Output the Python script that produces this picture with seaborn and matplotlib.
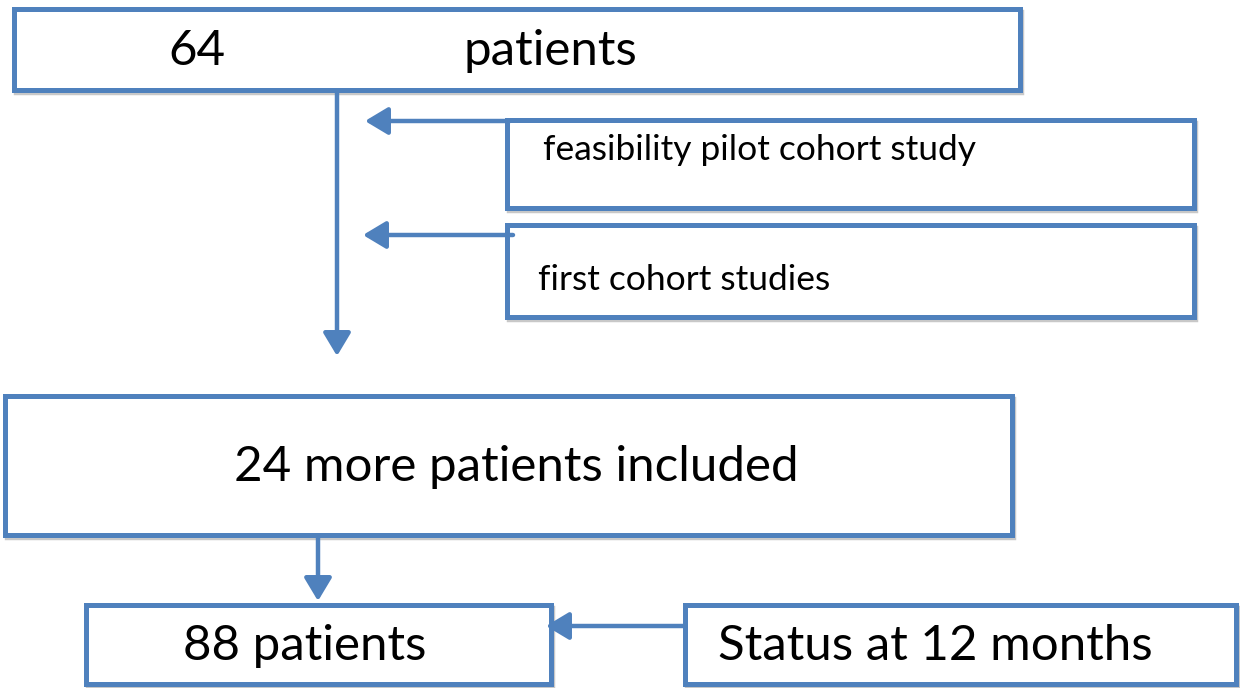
import matplotlib
matplotlib.use("Agg")
import matplotlib.pyplot as plt
import seaborn as sns
from matplotlib.patches import Rectangle

# box texts
labels = ["64", "patients", "feasibility pilot cohort study", "first cohort studies",
          "24 more patients included", "88 patients", "Status at 12 months"]

# box frames in pixel space: x0, y0, x1, y1
boxes = [(14, 9, 1020, 90), (507, 120, 1194, 208), (507, 225, 1194, 317),
         (5, 396, 1012, 535), (86, 605, 551, 684), (685, 605, 1236, 684)]

# text anchors: x, y, size, align
text_pos = [(197, 51, 35.5, "center"), (550, 51, 35.5, "center"),
            (543, 150, 25.5, "left"), (538, 280, 25.5, "left"),
            (516, 467, 35.5, "center"), (305, 646, 35.5, "center"), (718, 646, 35.5, "left")]

# arrows: start -> tip
arrows = [((337, 92), (337, 356)), ((510, 121), (365, 121)), ((513, 235), (363, 235)),
          ((318, 537), (318, 601)), ((685, 626), (546, 626))]

blue = "#4F81BD"

sns.set_theme(style="white")
plt.rcParams["font.family"] = ["Lato", "DejaVu Sans"]

fig = plt.figure(figsize=(12.4, 6.88), dpi=100)
ax = fig.add_axes([0, 0, 1, 1])
ax.set_xlim(0, 1240)
ax.set_ylim(688, 0)
ax.axis("off")

for x0, y0, x1, y1 in boxes:
    # faint shadow
    ax.add_patch(Rectangle((x0 + 2, y0 + 3), x1 - x0, y1 - y0, fill=False,
                           edgecolor="#c8c8c8", lw=3.2, zorder=1))
    ax.add_patch(Rectangle((x0, y0), x1 - x0, y1 - y0, facecolor="white",
                           edgecolor=blue, lw=3.6, zorder=2))

for (start, tip) in arrows:
    ax.annotate("", xy=tip, xytext=start,
                arrowprops=dict(arrowstyle="-|>,head_length=0.7,head_width=0.42",
                                mutation_scale=20, color=blue, lw=3.2,
                                shrinkA=0, shrinkB=0), zorder=3)

for lab, (x, y, fs, ha) in zip(labels, text_pos):
    ax.text(x, y, lab, fontsize=fs, ha=ha, va="center", color="black", zorder=4)

fig.savefig("out.png", dpi=100)
